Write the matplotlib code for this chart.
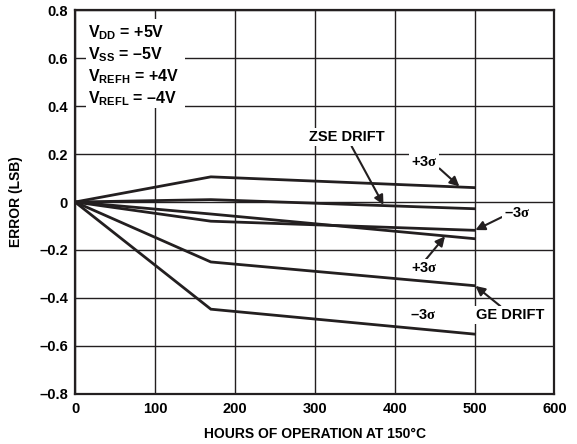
import matplotlib
matplotlib.use("Agg")
import matplotlib.pyplot as plt
from matplotlib.patches import Rectangle

plt.rcParams['font.family'] = ['Liberation Sans', 'DejaVu Sans']
plt.rcParams['font.weight'] = 'bold'
plt.rcParams['mathtext.fontset'] = 'custom'
plt.rcParams['mathtext.rm'] = 'Liberation Sans:bold'
plt.rcParams['mathtext.bf'] = 'Liberation Sans:bold'
plt.rcParams['mathtext.it'] = 'Liberation Serif'

# hours of operation (start, kink, end)
hours = [0, 170, 500]

# ZSE drift curves
zse_plus3s = [0, 0.105, 0.060]
zse_mean = [0, 0.010, -0.028]
zse_minus3s = [0, -0.080, -0.118]
# GE drift curves
ge_plus3s = [0, -0.050, -0.153]
ge_mean = [0, -0.250, -0.349]
ge_minus3s = [0, -0.447, -0.551]

xticks = [0, 100, 200, 300, 400, 500, 600]
yticks = [-0.8, -0.6, -0.4, -0.2, 0, 0.2, 0.4, 0.6, 0.8]
ytick_labels = ['\u20130.8', '\u20130.6', '\u20130.4', '\u20130.2', '0', '0.2', '0.4', '0.6', '0.8']

fig, ax = plt.subplots(figsize=(5.77, 4.44), dpi=100)
fig.subplots_adjust(left=0.13, right=0.961, top=0.977, bottom=0.113)

for ys in [zse_plus3s, zse_mean, zse_minus3s, ge_plus3s, ge_mean, ge_minus3s]:
    ax.plot(hours, ys, color='#231f20', lw=2.0, zorder=3, solid_joinstyle='miter')

ax.set_xlim(0, 600)
ax.set_ylim(-0.8, 0.8)
ax.set_xticks(xticks)
ax.set_xticklabels([str(t) for t in xticks])
ax.set_yticks(yticks)
ax.set_yticklabels(ytick_labels)
ax.tick_params(length=0, labelsize=10.5)
ax.tick_params(axis='x', pad=6)
ax.tick_params(axis='y', pad=5)
for lab in ax.get_xticklabels() + ax.get_yticklabels():
    lab.set_fontweight('bold')
ax.grid(True, color='#231f20', lw=1.0)
ax.set_axisbelow(True)
for s in ax.spines.values():
    s.set_linewidth(1.6)
    s.set_color('#231f20')

ax.set_xlabel('HOURS OF OPERATION AT 150\u00b0C', fontsize=10, fontweight='bold', labelpad=8)
ax.set_ylabel('ERROR (LSB)', fontsize=10, fontweight='bold', labelpad=12)

# supply condition box
ax.add_patch(Rectangle((14, 0.393), 124, 0.37, facecolor='white', edgecolor='none', zorder=2))
conds = ['$\\mathbf{V_{DD}}$ = +5V', '$\\mathbf{V_{SS}}$ = \u20135V',
         '$\\mathbf{V_{REFH}}$ = +4V', '$\\mathbf{V_{REFL}}$ = \u20134V']
for i, c in enumerate(conds):
    ax.text(16, 0.705 - i * 0.091, c, fontsize=11.5,
            fontweight='bold', va='center', ha='left', zorder=4)

arrow = dict(arrowstyle='-|>', color='#231f20', lw=1.5, mutation_scale=14, shrinkA=0, shrinkB=0)
box = dict(facecolor='white', edgecolor='none', pad=1.5)
fs = 10.5

ax.annotate('ZSE DRIFT', xy=(386, -0.012), xytext=(340, 0.27), fontsize=fs,
            fontweight='bold', ha='center', va='center', arrowprops=arrow, zorder=5,
            bbox=box)
ax.annotate('+3$\\sigma$', xy=(481, 0.065), xytext=(437, 0.165), fontsize=fs,
            fontweight='bold', ha='center', va='center', zorder=5,
            arrowprops=dict(arrow, relpos=(1.0, 0.2)), bbox=box)
ax.annotate('\u20133$\\sigma$', xy=(501, -0.117), xytext=(553, -0.047),
            fontsize=fs, fontweight='bold', ha='center', va='center', zorder=5,
            arrowprops=dict(arrow, relpos=(0.0, 0.3)), bbox=box)
ax.annotate('+3$\\sigma$', xy=(463, -0.143), xytext=(437, -0.277), fontsize=fs,
            fontweight='bold', ha='center', va='center', zorder=5,
            arrowprops=dict(arrow, relpos=(0.5, 1.0)), bbox=box)
ax.annotate('GE DRIFT', xy=(501, -0.350), xytext=(544, -0.472), fontsize=fs,
            fontweight='bold', ha='center', va='center', zorder=5,
            arrowprops=dict(arrow, relpos=(0.4, 1.0)), bbox=box)
ax.text(435, -0.472, '\u20133$\\sigma$', fontsize=fs,
        fontweight='bold', ha='center', va='center', zorder=5)

fig.savefig('out.png', dpi=100)
